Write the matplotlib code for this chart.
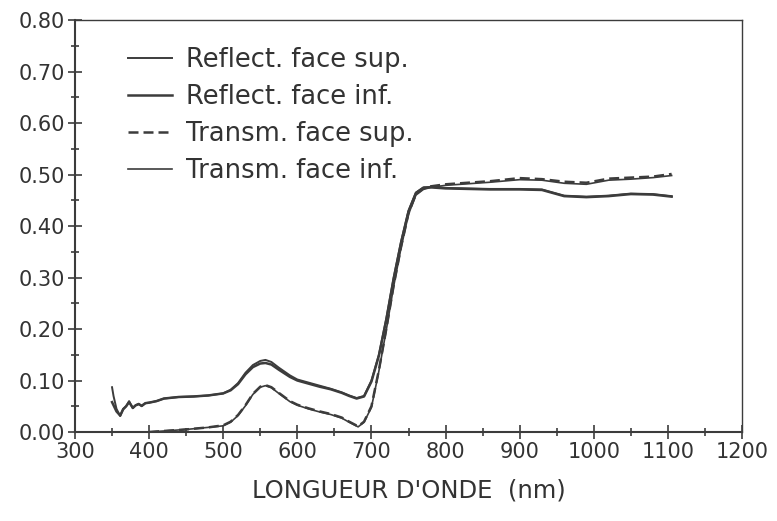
import matplotlib
matplotlib.use("Agg")
import matplotlib.pyplot as plt
from matplotlib.ticker import MultipleLocator, FormatStrFormatter

# Wavelength grids (nm)
wl_r = [350, 352, 356, 361, 365, 369, 373, 378, 382, 386, 390, 395, 400, 410, 420, 440, 460, 480, 500,
        510, 520, 530, 540, 550, 557, 565, 575, 590, 600, 615, 630, 645, 660, 670, 680, 690, 700,
        710, 720, 730, 740, 750, 760, 770, 780, 800, 830, 860, 900, 930, 960, 990, 1020, 1050, 1080, 1105]
refl_sup = [0.087, 0.070, 0.045, 0.031, 0.045, 0.050, 0.060, 0.046, 0.052, 0.055, 0.050, 0.056, 0.057,
            0.060, 0.065, 0.068, 0.069, 0.071, 0.075, 0.082, 0.095, 0.115, 0.130, 0.138, 0.140, 0.136,
            0.125, 0.110, 0.102, 0.096, 0.090, 0.084, 0.077, 0.071, 0.066, 0.070, 0.100,
            0.150, 0.220, 0.300, 0.370, 0.430, 0.465, 0.475, 0.476, 0.474, 0.473, 0.472, 0.472, 0.471,
            0.459, 0.457, 0.459, 0.463, 0.462, 0.458]
refl_inf = [0.058, 0.052, 0.040, 0.032, 0.044, 0.050, 0.058, 0.047, 0.052, 0.054, 0.051, 0.056, 0.057,
            0.060, 0.065, 0.068, 0.069, 0.071, 0.075, 0.081, 0.093, 0.112, 0.126, 0.133, 0.134, 0.131,
            0.121, 0.107, 0.100, 0.094, 0.088, 0.083, 0.076, 0.070, 0.065, 0.069, 0.098,
            0.148, 0.218, 0.298, 0.368, 0.428, 0.464, 0.474, 0.475, 0.473, 0.472, 0.471, 0.471, 0.470,
            0.458, 0.456, 0.458, 0.462, 0.461, 0.457]

wl_t = [400, 420, 450, 480, 500, 510, 520, 530, 540, 550, 557, 565, 575, 590, 600, 615, 630, 645,
        660, 670, 682, 690, 700, 710, 720, 730, 740, 750, 760, 770, 780, 800, 830, 860, 900, 930,
        960, 990, 1020, 1050, 1080, 1105]
trans_sup = [0.000, 0.002, 0.005, 0.009, 0.013, 0.020, 0.033, 0.052, 0.074, 0.088, 0.091, 0.087,
             0.076, 0.060, 0.053, 0.046, 0.040, 0.035, 0.028, 0.020, 0.011, 0.020, 0.050, 0.120,
             0.200, 0.285, 0.360, 0.425, 0.462, 0.473, 0.477, 0.481, 0.484, 0.487, 0.493, 0.491,
             0.486, 0.484, 0.492, 0.494, 0.496, 0.501]
trans_inf = [0.000, 0.002, 0.005, 0.009, 0.012, 0.019, 0.032, 0.051, 0.073, 0.087, 0.090, 0.086,
             0.075, 0.059, 0.052, 0.045, 0.039, 0.034, 0.027, 0.019, 0.010, 0.019, 0.048, 0.118,
             0.198, 0.283, 0.358, 0.423, 0.460, 0.471, 0.475, 0.479, 0.482, 0.485, 0.490, 0.489,
             0.483, 0.481, 0.489, 0.491, 0.494, 0.498]

labels = ["Reflect. face sup.", "Reflect. face inf.", "Transm. face sup.", "Transm. face inf."]

col = "#3c3c3c"
plt.rcParams['font.family'] = ['DejaVu Sans']

fig = plt.figure(figsize=(7.77, 5.21), dpi=100)
ax = fig.add_axes([0.0965, 0.1708, 0.8585, 0.7908])

ax.plot(wl_r, refl_sup, color=col, lw=1.4, label=labels[0])
ax.plot(wl_r, refl_inf, color=col, lw=1.8, label=labels[1])
ax.plot(wl_t, trans_sup, color=col, lw=1.8, ls=(0, (4, 2)), label=labels[2])
ax.plot(wl_t, trans_inf, color=col, lw=1.2, label=labels[3])

ax.set_xlim(300, 1200)
ax.set_ylim(0, 0.80)
ax.xaxis.set_major_locator(MultipleLocator(100))
ax.xaxis.set_minor_locator(MultipleLocator(50))
ax.yaxis.set_major_locator(MultipleLocator(0.10))
ax.yaxis.set_minor_locator(MultipleLocator(0.05))
ax.yaxis.set_major_formatter(FormatStrFormatter('%.2f'))

ax.tick_params(which='major', direction='inout', length=10, width=1.2, color=col,
               labelsize=15, labelcolor='#333333', pad=2)
ax.tick_params(which='minor', direction='inout', length=6, width=1.2, color=col)
ax.tick_params(top=False, right=False, which='both')

for s in ['left', 'bottom']:
    ax.spines[s].set_linewidth(1.5)
    ax.spines[s].set_color(col)
for s in ['top', 'right']:
    ax.spines[s].set_linewidth(1.0)
    ax.spines[s].set_color(col)

ax.set_xlabel("LONGUEUR D'ONDE  (nm)", fontsize=17.5, color='#333333', labelpad=12)

leg = ax.legend(loc='upper left', bbox_to_anchor=(0.045, 0.99), frameon=False,
                fontsize=18.5, handlelength=1.7, handletextpad=0.55, labelspacing=0.42,
                labelcolor='#333333')

fig.savefig("out.png", dpi=100)
